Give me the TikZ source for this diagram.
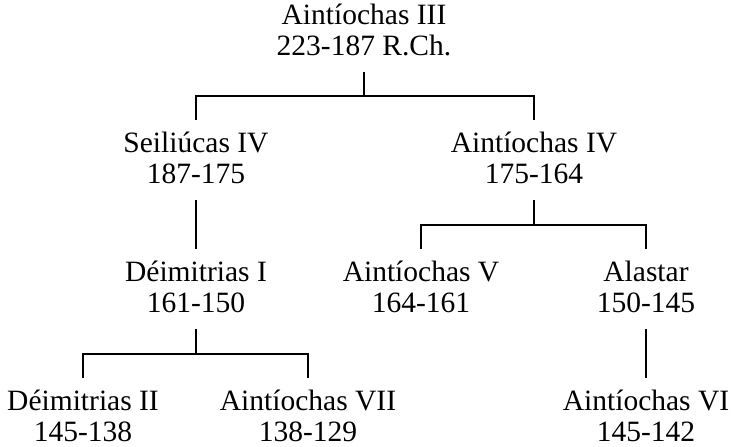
\documentclass[tikz,border=0pt]{standalone}
\usepackage{fontspec}
\setmainfont{Liberation Serif}
\usetikzlibrary{calc}

\tikzset{
  person/.style={align=center, anchor=base, font=\fontsize{29.5}{30.5}\selectfont,
    text height=50.5pt, text depth=5pt, inner xsep=0pt, inner ysep=12pt},
  link/.style={line width=1.8pt}
}

\begin{document}
\begin{tikzpicture}[x=1pt,y=-1pt]
  \useasboundingbox (0,0) rectangle (734,447);
  % Generation 1
  \node[person] (antiochIII) at (364,55) {Aintíochas III\\223-187 R.Ch.};
  % Generation 2
  \node[person] (seleucIV) at (196,183) {Seiliúcas IV\\187-175};
  \node[person] (antiochIV) at (534,183) {Aintíochas IV\\175-164};
  % Generation 3
  \node[person] (demetI) at (196,312) {Déimitrias I\\161-150};
  \node[person] (antiochV) at (421,312) {Aintíochas V\\164-161};
  \node[person] (alastar) at (646,312) {Alastar\\150-145};
  % Generation 4
  \node[person] (demetII) at (83,441) {Déimitrias II\\145-138};
  \node[person] (antiochVII) at (308,441) {Aintíochas VII\\138-129};
  \node[person] (antiochVI) at (646,441) {Aintíochas VI\\145-142};
  % Links
  \draw[link] (antiochIII.south) |- ($(antiochIII.south)!.5!(seleucIV.north)$) -| (seleucIV.north);
  \draw[link] (antiochIII.south) |- ($(antiochIII.south)!.5!(antiochIV.north)$) -| (antiochIV.north);
  \draw[link] (seleucIV.south) -- (demetI.north);
  \draw[link] (antiochIV.south) |- ($(antiochIV.south)!.5!(antiochV.north)$) -| (antiochV.north);
  \draw[link] (antiochIV.south) |- ($(antiochIV.south)!.5!(alastar.north)$) -| (alastar.north);
  \draw[link] (demetI.south) |- ($(demetI.south)!.5!(demetII.north)$) -| (demetII.north);
  \draw[link] (demetI.south) |- ($(demetI.south)!.5!(antiochVII.north)$) -| (antiochVII.north);
  \draw[link] (alastar.south) -- (antiochVI.north);
\end{tikzpicture}
\end{document}
